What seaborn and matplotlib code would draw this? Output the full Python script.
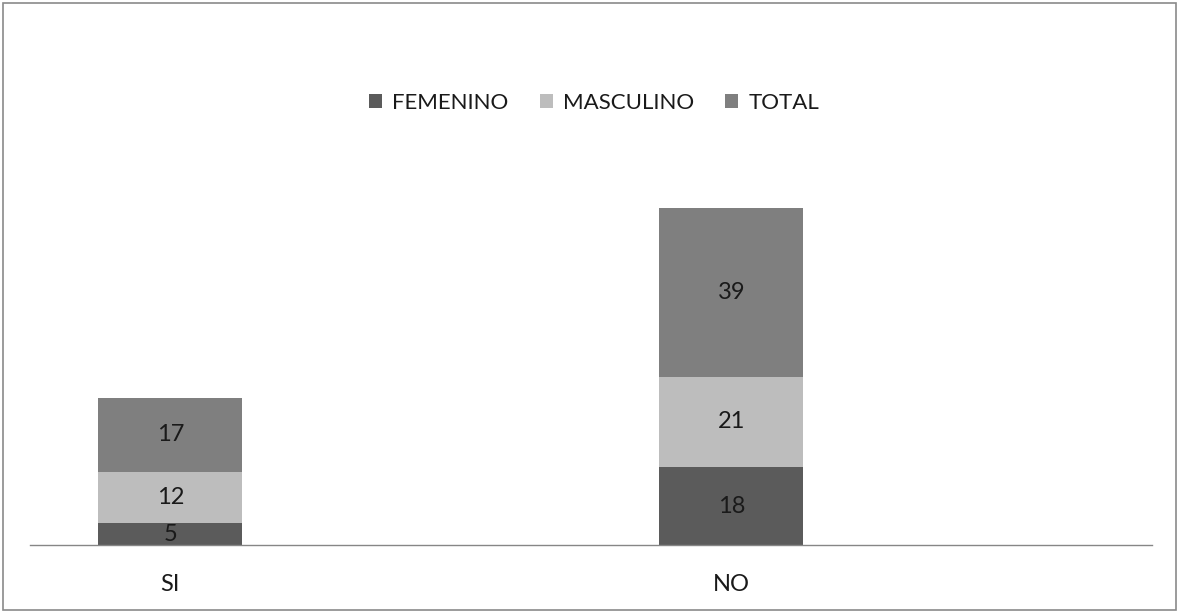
import numpy as np
import pandas as pd
import matplotlib
matplotlib.use("Agg")
import matplotlib.pyplot as plt
import seaborn as sns
from matplotlib.patches import Rectangle, Patch

categories = ["SI", "NO"]
femenino = [5, 18]
masculino = [12, 21]
total = [17, 39]
series_names = ["FEMENINO", "MASCULINO", "TOTAL"]

colors = {"FEMENINO": "#5b5b5b", "MASCULINO": "#bdbdbd", "TOTAL": "#7f7f7f"}

sns.set_style("white")
plt.rcParams["font.family"] = ["Lato", "DejaVu Sans"]

W, H = 1178, 612
fig = plt.figure(figsize=(W / 100, H / 100), dpi=100)
ax = fig.add_axes([30 / W, 67 / H, (1152 - 30) / W, 345.6 / H])

df = pd.DataFrame({"cat": categories, "FEMENINO": femenino,
                   "MASCULINO": masculino, "TOTAL": total})
cum = df[series_names].cumsum(axis=1)

for name in reversed(series_names):
    sns.barplot(x=df["cat"], y=cum[name], color=colors[name], width=0.257,
                saturation=1, ax=ax, order=categories, linewidth=0,
                edgecolor="none")

for i in range(len(categories)):
    bottom = 0
    for name in series_names:
        v = df[name][i]
        ax.text(i, bottom + v / 2, str(v), ha="center", va="center",
                fontsize=17, color="#1a1a1a")
        bottom += v

ax.set_xlim(-0.25, 1.75)
ax.set_ylim(0, 80)
ax.set_xlabel("")
ax.set_ylabel("")
ax.set_yticks([])
for s in ["top", "left", "right"]:
    ax.spines[s].set_visible(False)
ax.spines["bottom"].set_color("#868686")
ax.spines["bottom"].set_linewidth(1)
ax.tick_params(axis="x", length=0, pad=21, labelsize=17, labelcolor="#1a1a1a")

handles = [Patch(facecolor=colors[n], edgecolor="none") for n in series_names]
fig.legend(handles, series_names, loc="center", bbox_to_anchor=(594 / W, 1 - 103 / H),
           ncol=3, frameon=False, fontsize=16, handlelength=0.6, handleheight=0.6,
           handletextpad=0.45, columnspacing=1.4, labelcolor="#1a1a1a")

fig.patches.append(Rectangle((2.5 / W, 2.5 / H), (W - 5) / W, (H - 5) / H,
                             transform=fig.transFigure, fill=False,
                             edgecolor="#8a8a8a", linewidth=1.2))

fig.savefig("out.png", dpi=100, facecolor="white")
